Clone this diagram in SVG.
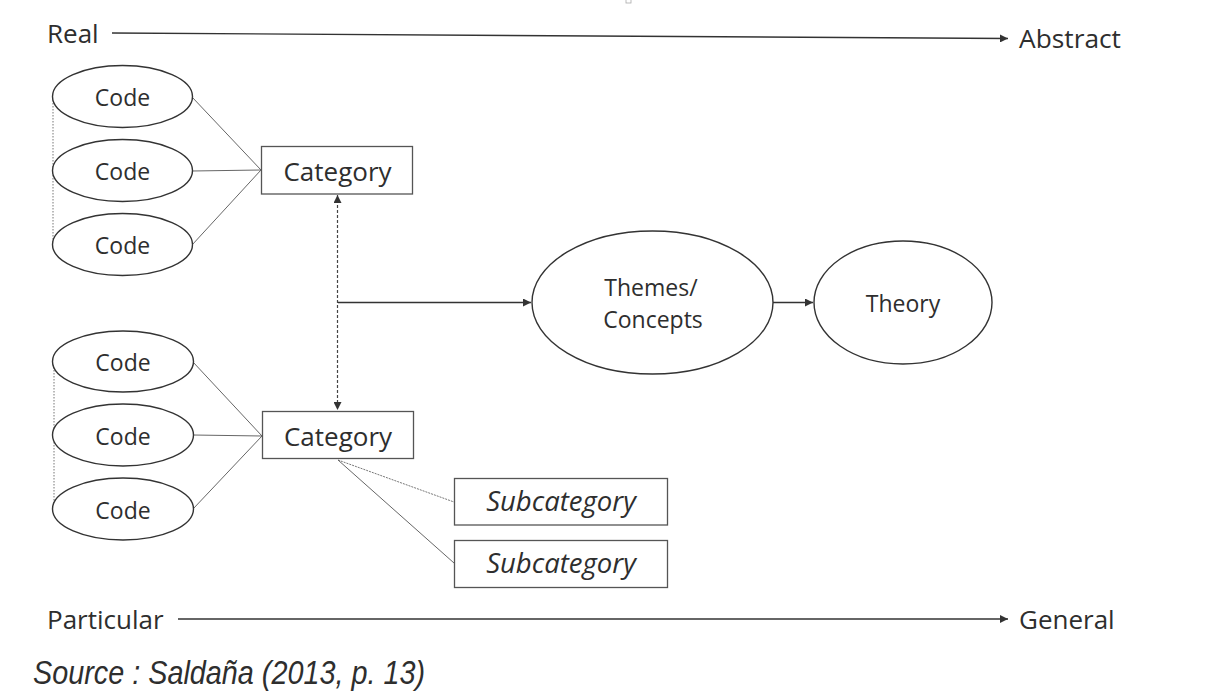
<svg xmlns="http://www.w3.org/2000/svg" width="1217" height="696" viewBox="0 0 1217 696">
<style>
text{font-family:"Open Sans","Noto Sans","Liberation Sans",sans-serif;fill:#2e2e2e}
.lbl{text-anchor:middle;font-size:23px}
.cat{text-anchor:middle;font-size:26px}
.sub{text-anchor:middle;font-size:27.5px;font-style:italic}
.axis{font-size:26px}
.shape{fill:#fff;stroke:#333;stroke-width:1.4}
.box{fill:#fff;stroke:#555;stroke-width:1.3}
.thin{stroke:#666;stroke-width:1;fill:none}
.dot{stroke:#777;stroke-width:1;stroke-dasharray:1.5 1.5;fill:none}
.arr{stroke:#333;stroke-width:1.4;fill:none}
</style>
<defs>
<marker id="ah" viewBox="0 0 10 10" refX="10" refY="5" markerWidth="8" markerHeight="8" markerUnits="userSpaceOnUse" orient="auto-start-reverse">
<path d="M0,0 L10,5 L0,10 z" fill="#333"/>
</marker>
</defs>
<rect x="626" y="-1" width="5" height="4" fill="none" stroke="#aaa" stroke-width="0.8"/>
<g id="connectors">
<line class="arr" x1="112" y1="33" x2="1008" y2="38.5" marker-end="url(#ah)"/>
<line class="arr" x1="178" y1="619" x2="1008" y2="619" marker-end="url(#ah)"/>
<line class="dot" x1="53" y1="97" x2="53" y2="245"/>
<line class="dot" x1="54" y1="361" x2="54" y2="509"/>
<line class="thin" x1="192" y1="97" x2="261" y2="170"/>
<line class="thin" x1="192" y1="171" x2="261" y2="170"/>
<line class="thin" x1="192" y1="245" x2="261" y2="170"/>
<line class="thin" x1="193" y1="362" x2="262" y2="436"/>
<line class="thin" x1="193" y1="435" x2="262" y2="436"/>
<line class="thin" x1="193" y1="509" x2="262" y2="436"/>
<line x1="337.5" y1="195" x2="337.5" y2="410" stroke="#444" stroke-width="1.2" stroke-dasharray="3 2" marker-start="url(#ah)" marker-end="url(#ah)"/>
<line class="arr" x1="338" y1="302.5" x2="531" y2="302.5" marker-end="url(#ah)"/>
<line class="arr" x1="773" y1="302.5" x2="813" y2="302.5" marker-end="url(#ah)"/>
<line x1="338" y1="460" x2="454" y2="502" stroke="#777" stroke-width="1" stroke-dasharray="2 1"/>
<line class="thin" x1="338" y1="460" x2="454" y2="563"/>
</g>
<g id="axis-labels">
<text class="axis" x="47" y="43">Real</text>
<text class="axis" x="1019" y="48" textLength="102" lengthAdjust="spacingAndGlyphs">Abstract</text>
<text class="axis" x="47" y="629">Particular</text>
<text class="axis" x="1019" y="629">General</text>
</g>
<g id="code1"><ellipse class="shape" cx="122.5" cy="96.5" rx="70" ry="31"/><text class="lbl" x="122.5" y="106">Code</text></g>
<g id="code2"><ellipse class="shape" cx="122.5" cy="170.5" rx="70" ry="31"/><text class="lbl" x="122.5" y="180">Code</text></g>
<g id="code3"><ellipse class="shape" cx="122.5" cy="244.5" rx="70" ry="31"/><text class="lbl" x="122.5" y="254">Code</text></g>
<g id="category1"><rect class="box" x="261.5" y="146.5" width="151" height="47.5"/><text class="cat" x="337.5" y="180.5">Category</text></g>
<g id="code4"><ellipse class="shape" cx="123" cy="361.5" rx="70.5" ry="30.5"/><text class="lbl" x="123" y="371">Code</text></g>
<g id="code5"><ellipse class="shape" cx="123" cy="435" rx="70.5" ry="31"/><text class="lbl" x="123" y="444.5">Code</text></g>
<g id="code6"><ellipse class="shape" cx="123" cy="509" rx="70.5" ry="31"/><text class="lbl" x="123" y="518.5">Code</text></g>
<g id="category2"><rect class="box" x="262.5" y="411.5" width="151" height="47"/><text class="cat" x="338" y="446">Category</text></g>
<g id="subcategory1"><rect class="box" x="454.5" y="478.5" width="213" height="46.5"/><text class="sub" x="561" y="511">Subcategory</text></g>
<g id="subcategory2"><rect class="box" x="454.5" y="540.5" width="213" height="47"/><text class="sub" x="561" y="573">Subcategory</text></g>
<g id="themes"><ellipse class="shape" cx="652.5" cy="302.5" rx="120.5" ry="71.5"/><text class="lbl" x="651" y="296">Themes/</text><text class="lbl" x="653" y="328">Concepts</text></g>
<g id="theory"><ellipse class="shape" cx="903" cy="302.5" rx="89" ry="61.5"/><text class="lbl" x="903" y="312">Theory</text></g>
<g id="source"><text x="33" y="684" font-style="italic" font-size="33" textLength="392" lengthAdjust="spacingAndGlyphs" style="font-family:'Liberation Sans',Arial,sans-serif">Source : Saldaña (2013, p. 13)</text></g>
</svg>
